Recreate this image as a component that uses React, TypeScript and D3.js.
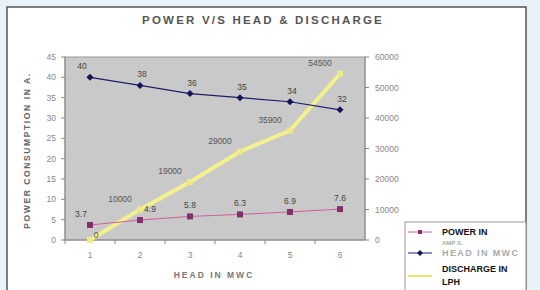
import React from "react";
import { scaleBand, scaleLinear, line } from "d3";

const heads = [1, 2, 3, 4, 5, 6];
const power = [3.7, 4.9, 5.8, 6.3, 6.9, 7.6];
const headMwc = [40, 38, 36, 35, 34, 32];
const discharge = [0, 10000, 19000, 29000, 35900, 54500];
const leftTicks = [0, 5, 10, 15, 20, 25, 30, 35, 40, 45];
const rightTicks = [0, 10000, 20000, 30000, 40000, 50000, 60000];

const W = 540;
const H = 290;
const plot = { left: 65, right: 365, top: 57, bottom: 240 };
const font = "Liberation Sans, Arial, sans-serif";

export default function App() {
  const x = scaleBand<number>()
    .domain(heads)
    .range([plot.left, plot.right]);
  const cx = (d: number) => (x(d) as number) + x.bandwidth() / 2;
  const yL = scaleLinear().domain([0, 45]).range([plot.bottom, plot.top]);
  const yR = scaleLinear().domain([0, 60000]).range([plot.bottom, plot.top]);

  const lineL = line<number>()
    .x((d, i) => cx(heads[i]))
    .y((d) => yL(d));
  const lineR = line<number>()
    .x((d, i) => cx(heads[i]))
    .y((d) => yR(d));

  return (
    <svg
      width={W}
      height={H}
      style={{ position: "absolute", left: 0, top: 0, fontFamily: font }}
    >
      <rect x={0} y={0} width={W} height={H} fill="#e9f1f9" />
      <rect x={7} y={7} width={519} height={300} fill="#ffffff" stroke="#555" strokeWidth={1.5} />

      <text
        x={263}
        y={24}
        textAnchor="middle"
        fontSize={11.5}
        fontWeight="bold"
        fill="#555"
        letterSpacing={2.2}
      >
        POWER V/S HEAD &amp; DISCHARGE
      </text>

      {/* plot area */}
      <rect
        x={plot.left}
        y={plot.top}
        width={plot.right - plot.left}
        height={plot.bottom - plot.top}
        fill="#c9c9c9"
        stroke="#9a9a9a"
      />

      {/* left axis */}
      <line x1={plot.left} x2={plot.left} y1={plot.top} y2={plot.bottom} stroke="#888" />
      {leftTicks.map((t) => (
        <g key={"l" + t}>
          <line x1={plot.left - 4} x2={plot.left} y1={yL(t)} y2={yL(t)} stroke="#888" />
          <text
            x={plot.left - 9}
            y={yL(t) + 3}
            textAnchor="end"
            fontSize={8.5}
            fill="#888"
          >
            {t}
          </text>
        </g>
      ))}

      {/* right axis */}
      <line x1={plot.right} x2={plot.right} y1={plot.top} y2={plot.bottom} stroke="#888" />
      {rightTicks.map((t) => (
        <g key={"r" + t}>
          <line x1={plot.right} x2={plot.right + 4} y1={yR(t)} y2={yR(t)} stroke="#888" />
          <text x={plot.right + 10} y={yR(t) + 3} fontSize={8.5} fill="#888">
            {t}
          </text>
        </g>
      ))}

      {/* x axis */}
      <line x1={plot.left} x2={plot.right} y1={plot.bottom} y2={plot.bottom} stroke="#888" />
      {heads.map((h) => (
        <g key={"x" + h}>
          <line
            x1={x(h) as number}
            x2={x(h) as number}
            y1={plot.bottom}
            y2={plot.bottom + 4}
            stroke="#888"
          />
          <text x={cx(h)} y={plot.bottom + 18} textAnchor="middle" fontSize={8.5} fill="#888">
            {h}
          </text>
        </g>
      ))}

      <text
        x={214}
        y={278}
        textAnchor="middle"
        fontSize={8.5}
        fontWeight="bold"
        fill="#777"
        letterSpacing={2}
      >
        HEAD IN MWC
      </text>
      <text
        transform={`translate(30, ${(plot.top + plot.bottom) / 2 + 2}) rotate(-90)`}
        textAnchor="middle"
        fontSize={8.5}
        fontWeight="bold"
        fill="#666"
        letterSpacing={1.6}
      >
        POWER CONSUMPTION IN A.
      </text>

      {/* discharge */}
      <path d={lineR(discharge) as string} fill="none" stroke="#f3f08e" strokeWidth={4} />
      {discharge.map((d, i) => (
        <g key={"d" + i}>
          <rect x={cx(heads[i]) - 3} y={yR(d) - 3} width={6} height={6} fill="#eeeb86" />
          <text
            x={i === 0 ? cx(heads[i]) + 6 : cx(heads[i]) - 20}
            y={i === 0 ? yR(d) - 2 : yR(d) - 8}
            textAnchor="middle"
            fontSize={8.5}
            fill="#555"
          >
            {d}
          </text>
        </g>
      ))}

      {/* head */}
      <path d={lineL(headMwc) as string} fill="none" stroke="#1e1e6a" strokeWidth={1.2} />
      {headMwc.map((d, i) => (
        <g key={"h" + i}>
          <path
            d={`M${cx(heads[i])},${yL(d) - 3.5}l3.5,3.5l-3.5,3.5l-3.5,-3.5z`}
            fill="#14145a"
          />
          <text
            x={cx(heads[i]) + (i === 0 ? -8 : 2)}
            y={yL(d) - 8}
            textAnchor="middle"
            fontSize={8.5}
            fill="#444"
          >
            {d}
          </text>
        </g>
      ))}

      {/* power */}
      <path d={lineL(power) as string} fill="none" stroke="#d0609a" strokeWidth={1} />
      {power.map((d, i) => (
        <g key={"p" + i}>
          <rect x={cx(heads[i]) - 3} y={yL(d) - 3} width={6} height={6} fill="#80306a" />
          <text
            x={cx(heads[i]) + (i === 0 ? -9 : i === 1 ? 10 : 0)}
            y={yL(d) - 8}
            textAnchor="middle"
            fontSize={8.5}
            fill="#444"
          >
            {d}
          </text>
        </g>
      ))}

      {/* legend */}
      <rect x={405} y={222} width={121} height={75} fill="#ffffff" stroke="#999" />
      <line x1={408} x2={432} y1={232} y2={232} stroke="#d0609a" />
      <rect x={418} y={230} width={4} height={4} fill="#80306a" />
      <text x={442} y={235} fontSize={9} fontWeight="bold" fill="#111">
        POWER IN
      </text>
      <text x={442} y={245} fontSize={6} fontWeight="bold" fill="#aaa">
        AMP S.
      </text>
      <line x1={408} x2={432} y1={253} y2={253} stroke="#1e1e6a" />
      <path d="M420,250l3,3l-3,3l-3,-3z" fill="#14145a" />
      <text x={442} y={256} fontSize={9} fontWeight="bold" fill="#aaa" letterSpacing={1.4}>
        HEAD IN MWC
      </text>
      <line x1={408} x2={432} y1={276} y2={276} stroke="#e8e870" strokeWidth={2} />
      <text x={442} y={272} fontSize={9} fontWeight="bold" fill="#111">
        DISCHARGE IN
      </text>
      <text x={442} y={285} fontSize={9} fontWeight="bold" fill="#111">
        LPH
      </text>
    </svg>
  );
}
